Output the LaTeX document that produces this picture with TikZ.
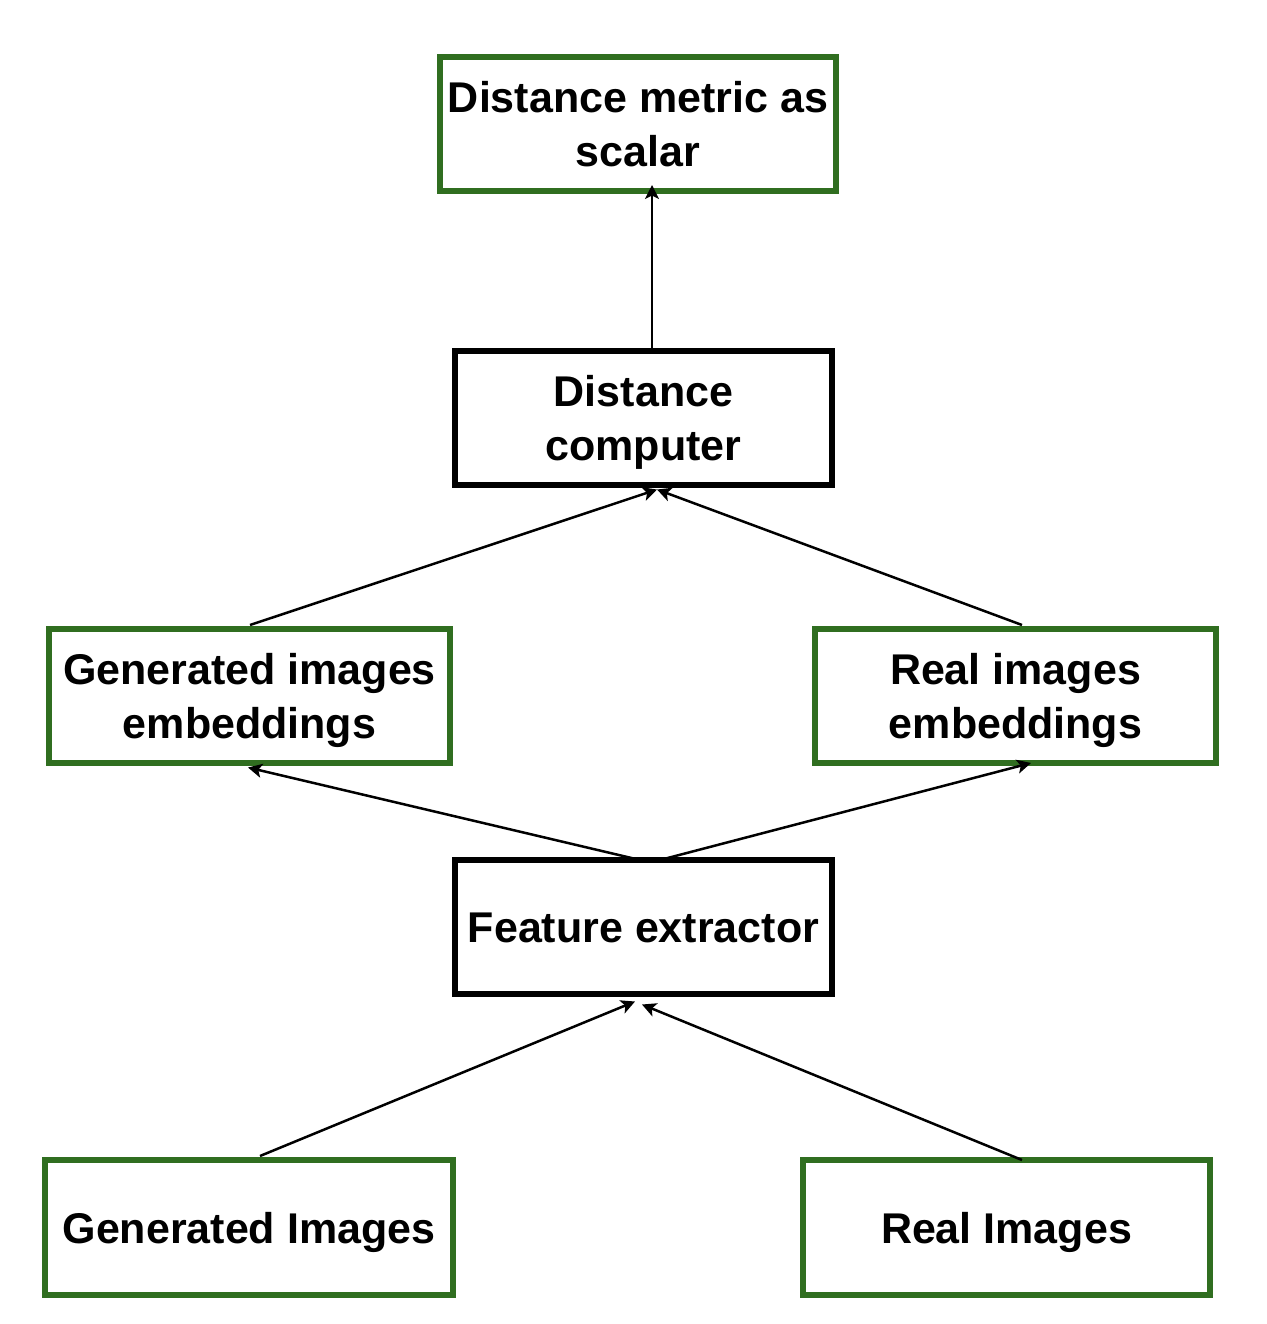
\documentclass[tikz,border=0pt]{standalone}
\usepackage{fontspec}
\setmainfont{Liberation Sans}
\usetikzlibrary{arrows.meta,calc}
\definecolor{boxgreen}{RGB}{48,110,32}
\newcommand{\boxtext}[1]{\raisebox{-5pt}[\height][\depth]{\begin{tabular}{@{}c@{}}#1\end{tabular}}}
\begin{document}
\begin{tikzpicture}[x=1pt,y=-1pt,
  box/.style={draw, line width=5.5pt, rectangle, outer sep=0pt, inner sep=2pt,
    font=\fontsize{43}{54}\selectfont\bfseries, fill=white},
  gbox/.style={box, draw=boxgreen},
  kbox/.style={box, draw=black},
  conn/.style={line width=2.5pt, -{Stealth[length=14pt,width=14pt,inset=3.5pt]}}]
\useasboundingbox (0,0) rectangle (1266,1324);
\node[gbox, minimum width=396pt, minimum height=134pt] (metric) at (638,124) {\boxtext{Distance metric as\\scalar}};
\node[kbox, minimum width=377pt, minimum height=134pt] (dc) at (643.5,418) {\boxtext{Distance\\computer}};
\node[gbox, minimum width=401pt, minimum height=134pt] (gemb) at (249.5,696) {\boxtext{Generated images\\embeddings}};
\node[gbox, minimum width=401pt, minimum height=134pt] (remb) at (1015.5,696) {\boxtext{Real images\\embeddings}};
\node[kbox, minimum width=377pt, minimum height=134pt] (fe) at (643.5,927) {\boxtext{Feature extractor}};
\node[gbox, minimum width=408pt, minimum height=135pt] (gimg) at (249,1227.5) {\boxtext{Generated Images}};
\node[gbox, minimum width=407pt, minimum height=135pt] (rimg) at (1006.5,1227.5) {\boxtext{Real Images}};

\draw[conn] ([xshift=8.5pt,yshift=2pt]dc.north) -- ([xshift=14pt,yshift=6pt]metric.south);
\draw[conn] ([xshift=0.5pt,yshift=4pt]gemb.north) -- ([xshift=13.5pt,yshift=-4.5pt]dc.south);
\draw[conn] ([xshift=6.5pt,yshift=4pt]remb.north) -- ([xshift=13.5pt,yshift=-4.5pt]dc.south);
\draw[conn] ([xshift=-3.5pt]fe.north) -- ([xshift=-1.5pt,yshift=-4.5pt]gemb.south);
\draw[conn] ([xshift=16.5pt]fe.north) -- ([xshift=15.5pt,yshift=0pt]remb.south);
\draw[conn] ([xshift=11pt,yshift=4pt]gimg.north) -- ([xshift=-8.5pt,yshift=-7.5pt]fe.south);
\draw[conn] ([xshift=15.5pt,yshift=0pt]rimg.north) -- ([xshift=-1.5pt,yshift=-10.5pt]fe.south);
\end{tikzpicture}
\end{document}
